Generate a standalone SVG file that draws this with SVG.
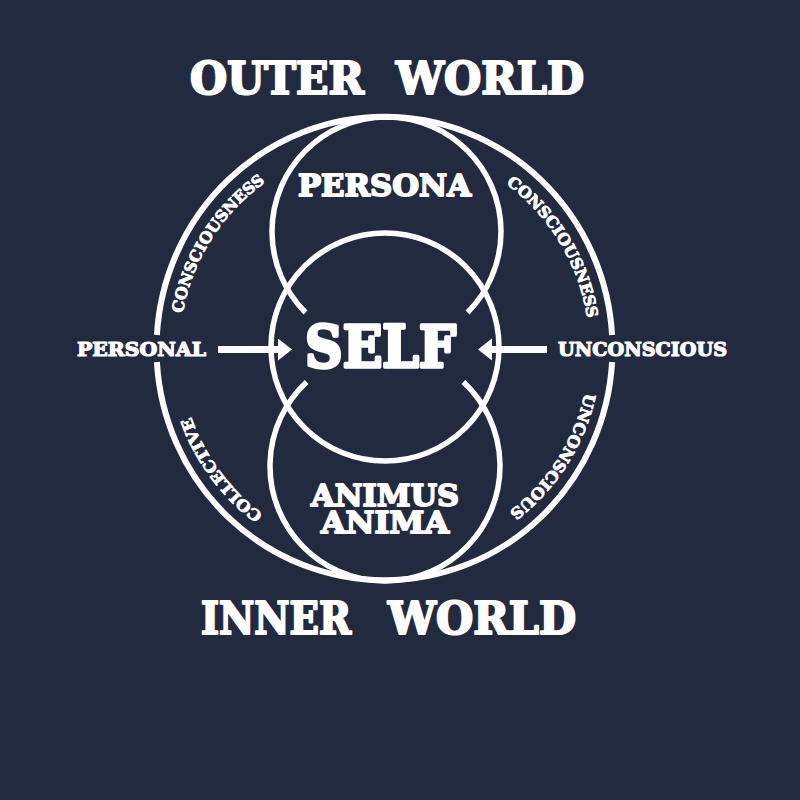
<svg xmlns="http://www.w3.org/2000/svg" width="800" height="800" viewBox="0 0 800 800">
<style>
.ln{fill:none;stroke:#ffffff;stroke-width:5.5}
.oc{fill:none;stroke:#ffffff;stroke-width:6}
.t{font-family:"DejaVu Serif","Liberation Serif",serif;font-weight:bold;fill:#ffffff;stroke:#ffffff;stroke-linejoin:round}
.big{stroke-width:1.8}
.mid{stroke-width:1.2}
.sm{stroke-width:0.9}
.arrow{stroke:#ffffff;stroke-width:7;fill:none}
</style>
<defs>
<marker id="ah" markerUnits="userSpaceOnUse" markerWidth="15" markerHeight="23" refX="1" refY="11" orient="auto">
<path d="M0,0 L14,11 L0,22 Z" fill="#ffffff"/>
</marker>
<path id="pLC" d="M182.6,313.4 A205,205 0 0 1 314.4,156.4"/>
<path id="pRC" d="M506.0,183.9 A205,205 0 0 1 586.4,384.6"/>
<path id="pRU" d="M584.8,392.7 A205,205 0 0 1 454.6,541.6"/>
<path id="pLC2" d="M263.1,514.2 A205,205 0 0 1 179.5,349"/>
</defs>
<rect width="800" height="800" fill="#222a40"/>
<g id="outer-circle">
<path class="oc" d="M156.9,335 A228,232 0 0 1 612.1,335"/>
<path class="oc" d="M612.1,362 A228,232 0 0 1 156.9,362"/>
</g>
<g id="persona">
<path class="ln" d="M305.5,312.5 A114.5,114.5 0 1 1 467.5,312.5"/>
<text class="t big" x="298" y="196" font-size="29" textLength="173" lengthAdjust="spacingAndGlyphs">PERSONA</text>
</g>
<g id="self">
<circle class="ln" cx="385" cy="347" r="114"/>
<text class="t" x="305" y="367" font-size="57" stroke-width="3.5" textLength="151" lengthAdjust="spacingAndGlyphs">SELF</text>
</g>
<g id="animus-anima">
<path class="ln" d="M463.4,381.9 A115,115 0 1 1 306.6,381.9"/>
<text class="t big" font-size="30"><tspan x="311" y="506" textLength="148" lengthAdjust="spacingAndGlyphs">ANIMUS</tspan><tspan x="321" y="533" textLength="128" lengthAdjust="spacingAndGlyphs">ANIMA</tspan></text>
</g>
<g id="outer-world">
<text class="t" y="94" font-size="44" stroke-width="2.2"><tspan x="190" textLength="174" lengthAdjust="spacingAndGlyphs">OUTER</tspan> <tspan x="396" textLength="188" lengthAdjust="spacingAndGlyphs">WORLD</tspan></text>
</g>
<g id="inner-world">
<text class="t" y="634" font-size="44" stroke-width="2.2"><tspan x="201" textLength="150" lengthAdjust="spacingAndGlyphs">INNER</tspan> <tspan x="388" textLength="188" lengthAdjust="spacingAndGlyphs">WORLD</tspan></text>
</g>
<g id="personal">
<text class="t mid" x="77" y="356" font-size="19" textLength="129" lengthAdjust="spacingAndGlyphs">PERSONAL</text>
</g>
<g id="unconscious">
<text class="t mid" x="558" y="356" font-size="19" textLength="169" lengthAdjust="spacingAndGlyphs">UNCONSCIOUS</text>
</g>
<g id="arc-labels">
<text class="t sm" font-size="15.5"><textPath href="#pLC" textLength="159" lengthAdjust="spacingAndGlyphs">CONSCIOUSNESS</textPath></text>
<text class="t sm" font-size="15.5"><textPath href="#pRC" textLength="161" lengthAdjust="spacingAndGlyphs">CONSCIOUSNESS</textPath></text>
<text class="t sm" font-size="15.5"><textPath href="#pRU" textLength="144" lengthAdjust="spacingAndGlyphs">UNCONSCIOUS</textPath></text>
<text class="t sm" font-size="15.5"><textPath href="#pLC2" textLength="123" lengthAdjust="spacingAndGlyphs">COLLECTIVE</textPath></text>
</g>
<g id="connectors">
<line class="arrow" x1="218" y1="349.5" x2="279" y2="349.5" marker-end="url(#ah)"/>
<line class="arrow" x1="547" y1="349.5" x2="491" y2="349.5" marker-end="url(#ah)"/>
</g>
</svg>
